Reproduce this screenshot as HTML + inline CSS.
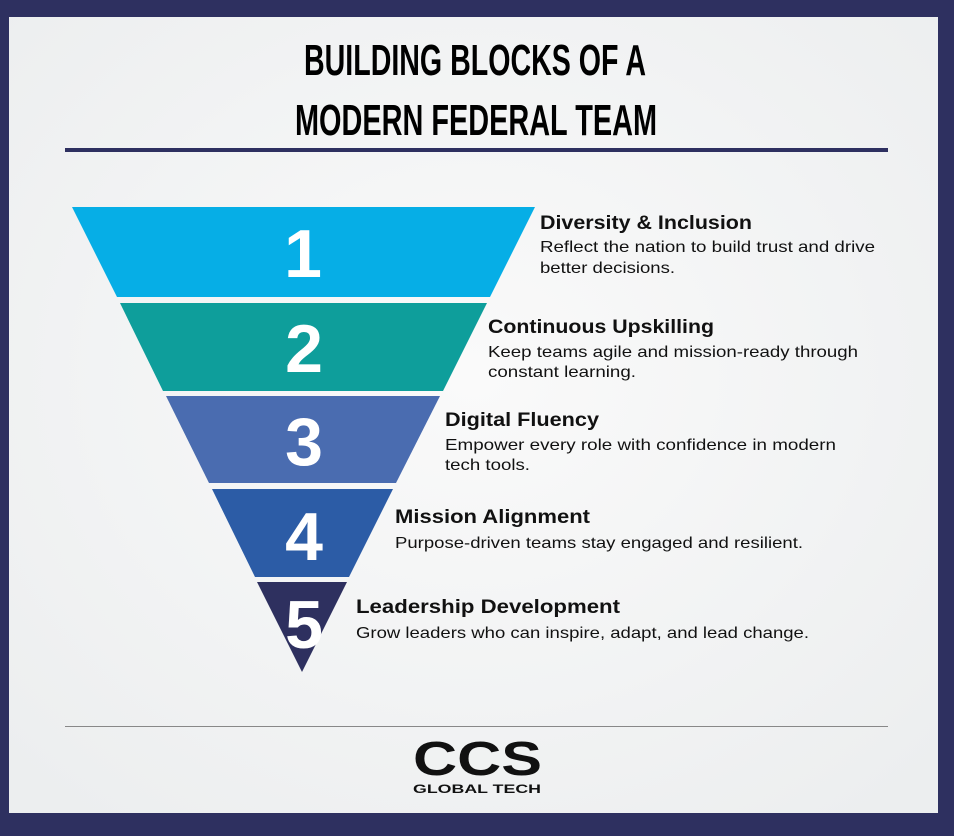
<!DOCTYPE html>
<html><head><meta charset="utf-8"><style>
html,body{margin:0;padding:0}
body{width:954px;height:831px;overflow:hidden;background:#2e3060}
</style></head><body>
<svg width="954" height="831" viewBox="0 0 954 831" xmlns="http://www.w3.org/2000/svg" font-family="Liberation Sans, sans-serif">
<defs>
<radialGradient id="bg" cx="50%" cy="45%" r="70%">
<stop offset="0" stop-color="#fafafa"/><stop offset="1" stop-color="#eceeef"/>
</radialGradient>
</defs>
<rect x="0" y="0" width="954" height="831" fill="#2e3060"/>
<rect x="9" y="17" width="929" height="796" fill="url(#bg)"/>
<text x="475" y="75" font-size="44" font-weight="bold" text-anchor="middle" textLength="342" lengthAdjust="spacingAndGlyphs" fill="#000">BUILDING BLOCKS OF A</text>
<text x="476" y="135" font-size="44" font-weight="bold" text-anchor="middle" textLength="362" lengthAdjust="spacingAndGlyphs" fill="#000">MODERN FEDERAL TEAM</text>
<rect x="65" y="148" width="823" height="4" fill="#2e3060"/>

<polygon points="72,207 535,207 490,297 117,297" fill="#06aee6"/>
<polygon points="120,303 487,303 443,391 163,391" fill="#0e9e9b"/>
<polygon points="166,396 440,396 396,483 209,483" fill="#4a6cb0"/>
<polygon points="212,489 393,489 349,577 255,577" fill="#2c5ca6"/>
<polygon points="257,582 347,582 302,672" fill="#2e305f"/>

<g fill="#fff" font-weight="bold" font-size="68" text-anchor="middle">
<text x="303" y="277">1</text>
<text x="304" y="372">2</text>
<text x="304" y="465">3</text>
<text x="304" y="560">4</text>
<text x="304" y="648">5</text>
</g>

<g fill="#111">
<text x="540" y="229" font-size="19" font-weight="bold" textLength="212" lengthAdjust="spacingAndGlyphs">Diversity &amp; Inclusion</text>
<text x="540" y="252" font-size="16" textLength="335" lengthAdjust="spacingAndGlyphs">Reflect the nation to build trust and drive</text>
<text x="540" y="273" font-size="16" textLength="135" lengthAdjust="spacingAndGlyphs">better decisions.</text>

<text x="488" y="333" font-size="19" font-weight="bold" textLength="226" lengthAdjust="spacingAndGlyphs">Continuous Upskilling</text>
<text x="488" y="357" font-size="16" textLength="370" lengthAdjust="spacingAndGlyphs">Keep teams agile and mission-ready through</text>
<text x="488" y="377" font-size="16" textLength="148" lengthAdjust="spacingAndGlyphs">constant learning.</text>

<text x="445" y="426" font-size="19" font-weight="bold" textLength="154" lengthAdjust="spacingAndGlyphs">Digital Fluency</text>
<text x="445" y="450" font-size="16" textLength="391" lengthAdjust="spacingAndGlyphs">Empower every role with confidence in modern</text>
<text x="445" y="470" font-size="16" textLength="85" lengthAdjust="spacingAndGlyphs">tech tools.</text>

<text x="395" y="523" font-size="19" font-weight="bold" textLength="195" lengthAdjust="spacingAndGlyphs">Mission Alignment</text>
<text x="395" y="548" font-size="16" textLength="408" lengthAdjust="spacingAndGlyphs">Purpose-driven teams stay engaged and resilient.</text>

<text x="356" y="613" font-size="19" font-weight="bold" textLength="264" lengthAdjust="spacingAndGlyphs">Leadership Development</text>
<text x="356" y="638" font-size="16" textLength="453" lengthAdjust="spacingAndGlyphs">Grow leaders who can inspire, adapt, and lead change.</text>
</g>

<rect x="65" y="726" width="823" height="1" fill="#888"/>
<text x="413" y="775" font-size="48" font-weight="bold" textLength="129" lengthAdjust="spacingAndGlyphs" fill="#111">CCS</text>
<text x="413" y="793" font-size="12" font-weight="bold" textLength="128" lengthAdjust="spacingAndGlyphs" fill="#111">GLOBAL TECH</text>
</svg>
</body></html>
